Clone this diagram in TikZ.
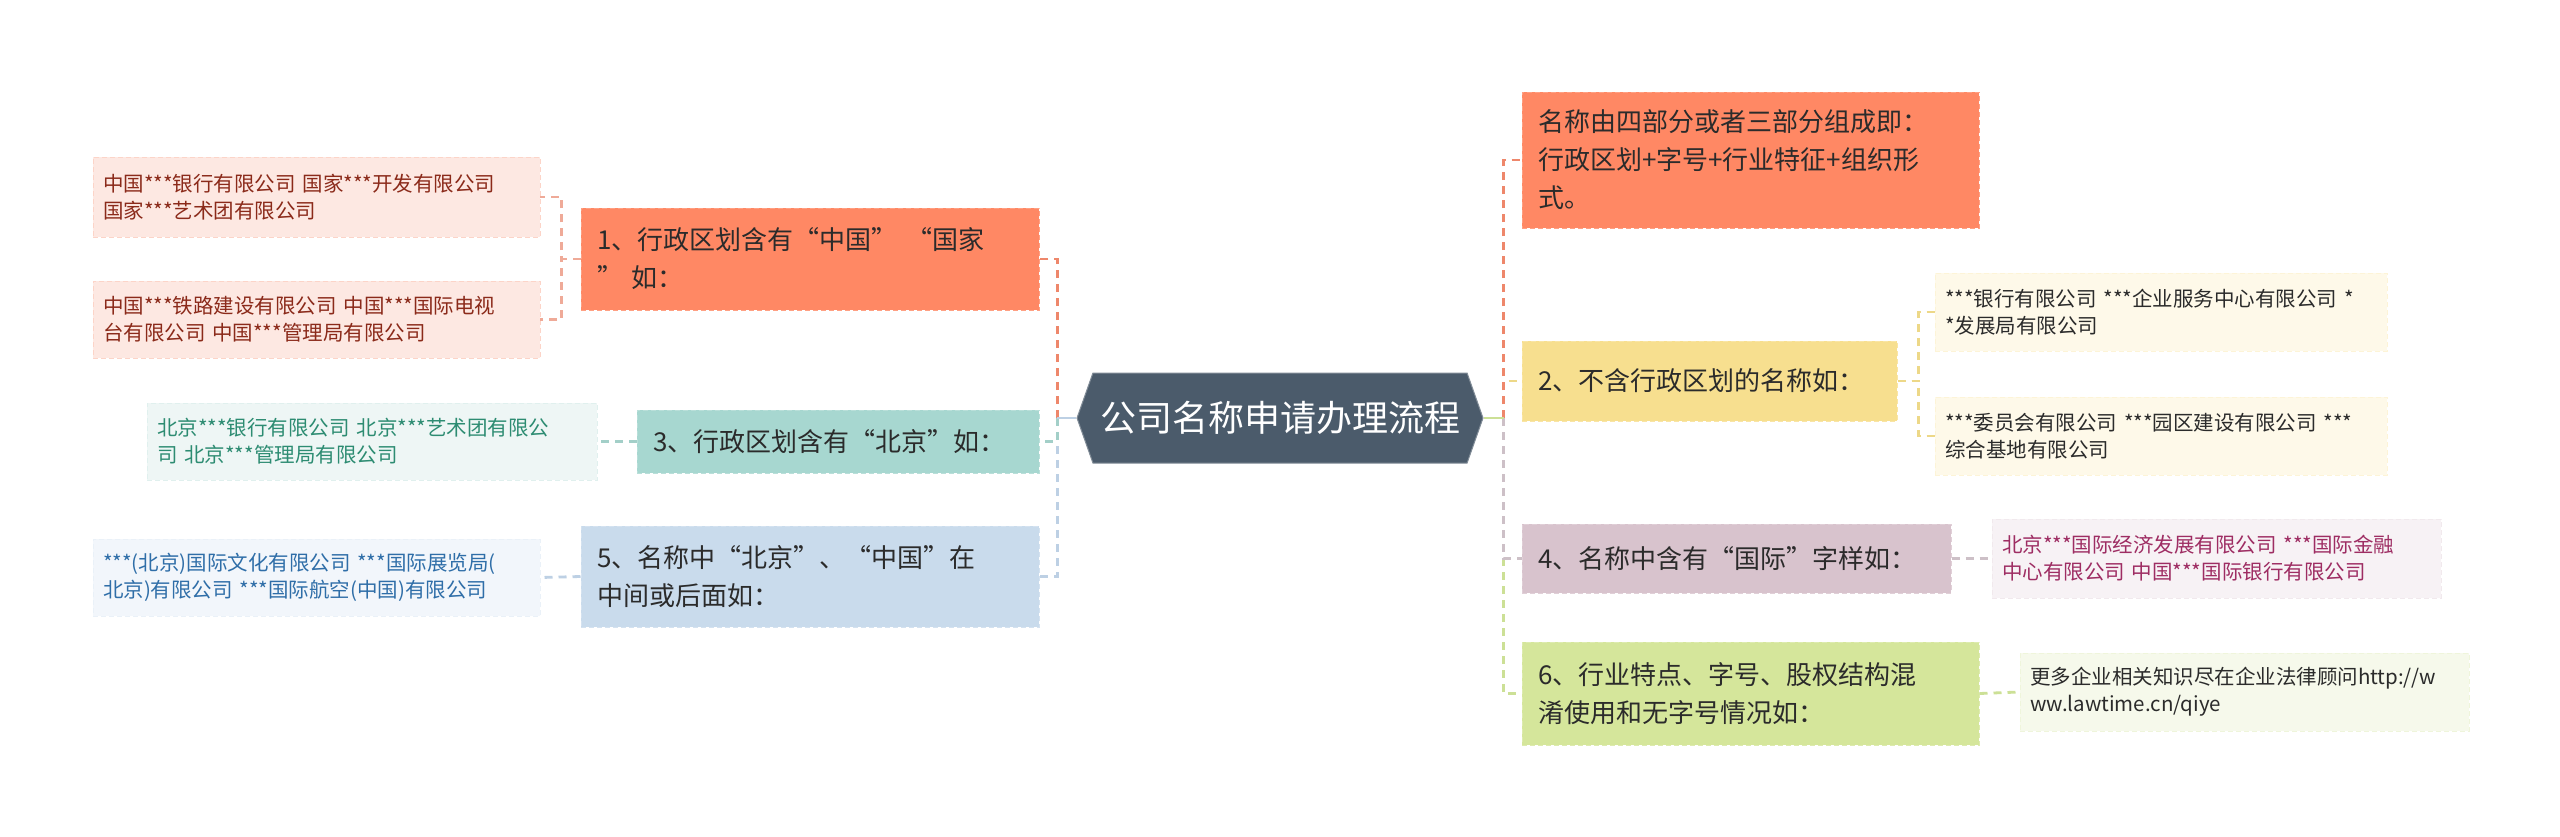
\documentclass[tikz,border=0pt]{standalone}
\usepackage{fontspec}
\setmainfont{Noto Sans CJK SC}
\usetikzlibrary{shapes.symbols}
\definecolor{rootc}{HTML}{4B5B6B}
\definecolor{orangec}{HTML}{FF8864}
\definecolor{orangeb}{HTML}{F9A58C}
\definecolor{orangel}{HTML}{FDE8E2}
\definecolor{orangecon}{HTML}{EE876B}
\definecolor{orangeleafcon}{HTML}{EFAA98}
\definecolor{redtxt}{HTML}{8B2A1A}
\definecolor{tealc}{HTML}{A7D7D0}
\definecolor{teall}{HTML}{EEF6F5}
\definecolor{tealtxt}{HTML}{2D8C72}
\definecolor{tealcon}{HTML}{A3CFC8}
\definecolor{bluec}{HTML}{C9DBEC}
\definecolor{bluel}{HTML}{F2F6FB}
\definecolor{bluetxt}{HTML}{2F6EA8}
\definecolor{bluecon}{HTML}{BDD0E4}
\definecolor{yellowc}{HTML}{F7DF8F}
\definecolor{yellowl}{HTML}{FEF9E9}
\definecolor{yellowcon}{HTML}{EDD888}
\definecolor{mauvec}{HTML}{D8C3CD}
\definecolor{mauvel}{HTML}{F7F2F5}
\definecolor{mauvetxt}{HTML}{9E2D63}
\definecolor{mauvecon}{HTML}{CDC0C7}
\definecolor{greenc}{HTML}{D5E69B}
\definecolor{greenl}{HTML}{F6F9EB}
\definecolor{greencon}{HTML}{CCE096}
\definecolor{darktxt}{HTML}{2B2B2B}
\tikzset{
  mainbox/.style={rectangle, inner xsep=16pt, inner ysep=4pt, align=left,
    font=\fontsize{26}{38}\selectfont, text=darktxt, draw=#1!80!white, dashed,
    dash pattern=on 5pt off 3pt, line width=1pt},
  leafbox/.style={rectangle, inner xsep=10pt, inner ysep=4pt, align=left,
    font=\fontsize{20.5}{27}\selectfont, draw=#1, dashed,
    dash pattern=on 5pt off 3pt, line width=0.8pt},
  con/.style={dashed, dash pattern=on 8pt off 6pt, line width=2.8pt},
  stub/.style={solid, line width=2.8pt},
}
\begin{document}
\begin{tikzpicture}[x=1pt,y=-1pt]
\useasboundingbox[fill=white] (0,0) rectangle (2560,836);

% root
\node[signal, signal to=west and east, signal pointer angle=141,
  fill=rootc, draw=rootc!70!white, line width=1pt, minimum width=406pt, minimum height=90pt,
  inner sep=0pt, text=white, font=\fontsize{36}{40}\selectfont] (root) at (1280,418) {公司名称申请办理流程};

% left main nodes
\node[mainbox=orangec, fill=orangec, text width=426pt, minimum height=102pt] (n1) at (810,259)
  {1、行政区划含有“中国” “国家\\” 如：};
\node[mainbox=tealc, fill=tealc, text width=370pt, minimum height=63pt] (n3) at (838,441.5)
  {3、行政区划含有“北京”如：};
\node[mainbox=bluec, fill=bluec, text width=426pt, minimum height=101pt] (n5) at (810,576.5)
  {5、名称中“北京”、“中国”在\\中间或后面如：};

% left leaves
\node[leafbox=orangel!70!orangeb, fill=orangel, text=redtxt, text width=427pt, minimum height=80pt] (l1a) at (316.5,197)
  {中国***银行有限公司 国家***开发有限公司\\国家***艺术团有限公司};
\node[leafbox=orangel!70!orangeb, fill=orangel, text=redtxt, text width=427pt, minimum height=77pt] (l1b) at (316.5,319.5)
  {中国***铁路建设有限公司 中国***国际电视\\台有限公司 中国***管理局有限公司};
\node[leafbox=teall!80!tealc, fill=teall, text=tealtxt, text width=430pt, minimum height=77pt] (l3) at (372,441.5)
  {北京***银行有限公司 北京***艺术团有限公\\司 北京***管理局有限公司};
\node[leafbox=bluel!80!bluec, fill=bluel, text=bluetxt, text width=427pt, minimum height=77pt] (l5) at (316.5,577.5)
  {***(北京)国际文化有限公司 ***国际展览局(\\北京)有限公司 ***国际航空(中国)有限公司};

% right main nodes
\node[mainbox=orangec, fill=orangec, text width=425pt, minimum height=136pt] (r1) at (1750.5,160)
  {名称由四部分或者三部分组成即：\\行政区划+字号+行业特征+组织形\\式。};
\node[mainbox=yellowc, fill=yellowc, text width=343pt, minimum height=80pt] (r2) at (1709.5,381)
  {2、不含行政区划的名称如：};
\node[mainbox=mauvec, fill=mauvec, text width=397pt, minimum height=69pt] (r4) at (1736.5,558.5)
  {4、名称中含有“国际”字样如：};
\node[mainbox=greenc, fill=greenc, text width=425pt, minimum height=103pt] (r6) at (1750.5,693.5)
  {6、行业特点、字号、股权结构混\\淆使用和无字号情况如：};

% right leaves
\node[leafbox=yellowl!80!yellowc, fill=yellowl, text=darktxt, text width=432pt, minimum height=78pt] (r2a) at (2161,312)
  {***银行有限公司 ***企业服务中心有限公司 *\\**发展局有限公司};
\node[leafbox=yellowl!80!yellowc, fill=yellowl, text=darktxt, text width=432pt, minimum height=78pt] (r2b) at (2161,436)
  {***委员会有限公司 ***园区建设有限公司 ***\\综合基地有限公司};
\node[leafbox=mauvel!80!mauvec, fill=mauvel, text=mauvetxt, text width=429pt, minimum height=79pt] (r4a) at (2216.5,558.5)
  {北京***国际经济发展有限公司 ***国际金融\\中心有限公司 中国***国际银行有限公司};
\node[leafbox=greenl!80!greenc, fill=greenl, text=darktxt, text width=429pt, minimum height=78pt] (r6a) at (2244.5,692)
  {更多企业相关知识尽在企业法律顾问http://w\\ww.lawtime.cn/qiye};

% connectors left
\coordinate (lt) at ([xshift=-19pt]root.west);
\coordinate (rt) at ([xshift=20pt]root.east);
\draw[con, bluecon] (lt) |- (n5.east);
\draw[con, tealcon] (lt) |- (n3.east);
\draw[con, orangecon] (lt) |- (n1.east);
\draw[stub, bluecon] (root.west) -- (lt);
\draw[con, orangeleafcon] (n1.west) -- ++(-19,0) |- (l1a.east);
\draw[con, orangeleafcon] (n1.west) -- ++(-19,0) |- (l1b.east);
\draw[con, tealcon] (n3.west) -- (l3.east);
\draw[con, bluecon] (n5.west) -- (l5.east);

% connectors right
\draw[con, greencon] (rt) |- (r6.west);
\draw[con, mauvecon] (rt) |- (r4.west);
\draw[con, yellowcon] (rt) |- (r2.west);
\draw[con, orangecon] (rt) |- (r1.west);
\draw[stub, greencon] (root.east) -- (rt);
\draw[con, yellowcon] (r2.east) -- ++(21,0) |- (r2a.west);
\draw[con, yellowcon] (r2.east) -- ++(21,0) |- (r2b.west);
\draw[con, mauvecon] (r4.east) -- (r4a.west);
\draw[con, greencon] (r6.east) -- (r6a.west);
\end{tikzpicture}
\end{document}
